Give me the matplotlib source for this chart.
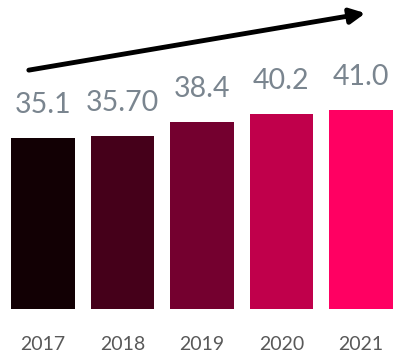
import matplotlib.pyplot as plt

years = ["2017", "2018", "2019", "2020", "2021"]
values = [35.1, 35.70, 38.4, 40.2, 41.0]
value_labels = ["35.1", "35.70", "38.4", "40.2", "41.0"]
bar_colors = ["#120004", "#45001a", "#74002f", "#c0004b", "#ff0062"]


def main():
    plt.rcParams["font.family"] = ["Lato", "DejaVu Sans"]

    fig = plt.figure(figsize=(3.95, 3.56), dpi=100)
    ax = fig.add_axes([0, 0, 1, 1])

    x = range(len(years))
    bars = ax.bar(x, values, width=0.8, color=bar_colors)

    # value labels sit a little above each bar
    for bar, label in zip(bars, value_labels):
        ax.annotate(label, (bar.get_x() + bar.get_width() / 2, bar.get_height()),
                    xytext=(0, 20), textcoords="offset pixels",
                    ha="center", va="bottom", fontsize=20.5, color="#7a858f")

    # years below the baseline
    for i, year in enumerate(years):
        ax.text(i, -7.4, year, ha="center", va="center", fontsize=14, color="#595959")

    # upward trend arrow
    ax.annotate("", xy=(0.925, 0.963), xytext=(0.073, 0.803),
                xycoords="axes fraction", textcoords="axes fraction",
                arrowprops=dict(arrowstyle="-|>,head_length=0.9,head_width=0.45",
                                color="black", lw=3.5, shrinkA=0, shrinkB=0))

    ax.set_xlim(-0.541, 4.428)
    ax.set_ylim(-9.67, 63.6)
    ax.axis("off")

    fig.savefig("out.png", dpi=100)
    plt.close(fig)


if __name__ == "__main__":
    main()
